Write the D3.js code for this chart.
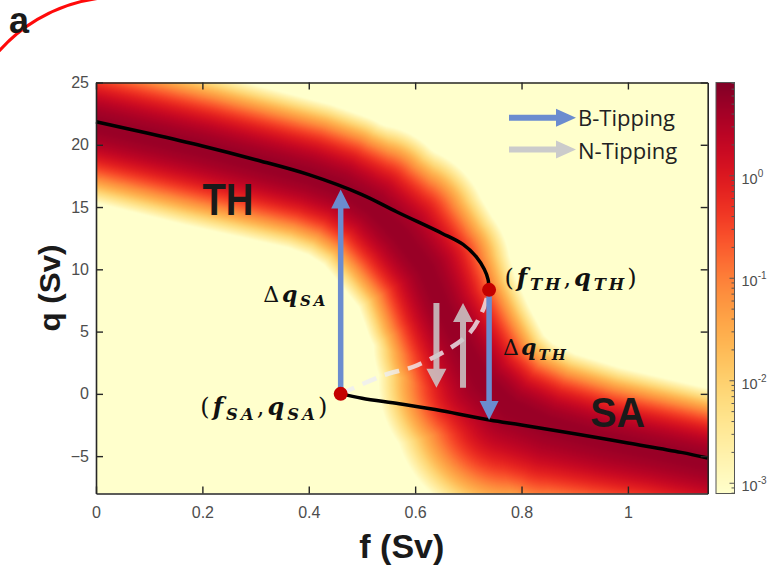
<!DOCTYPE html>
<html lang="en">
  <head>
    <meta charset="utf-8" />
    <title>AMOC tipping - density map</title>
    <script src="https://cdnjs.cloudflare.com/ajax/libs/d3/7.8.5/d3.min.js"></script>
    <style type="text/css">
      body {
        margin: 0;
        background: #fff;
      }
      .tick text {
        font-family: "Liberation Sans", Arial, sans-serif;
        fill: #4d4d4d;
      }
      .axisLabel {
        font-family: "Liberation Sans", Arial, sans-serif;
        font-weight: bold;
        fill: #1a1a1a;
      }
      .math {
        font-family: "DejaVu Serif", serif;
        fill: #111;
      }
    </style>
  </head>

  <body>
    <div id="chart"></div>

    <script>
      // ticks
      const fTicks = [0, 0.2, 0.4, 0.6, 0.8, 1];
      const qTicks = [-5, 0, 5, 10, 15, 20, 25];
      const cbTicks = [-3, -2, -1, 0]; // log10

      // TH branch (stable, upper)
      const thF = [0, 0.1, 0.2, 0.3, 0.4, 0.5, 0.566, 0.65, 0.69, 0.715, 0.73, 0.737, 0.739];
      const thQ = [21.85, 20.9, 19.9, 18.8, 17.6, 16.0, 14.6, 12.9, 12.0, 11.0, 10.0, 9.2, 8.35];

      // SA branch (stable, lower)
      const saF = [0.46, 0.5, 0.57, 0.65, 0.74, 0.8, 0.9, 1.0, 1.1, 1.15];
      const saQ = [0, -0.35, -0.8, -1.35, -2.1, -2.5, -3.2, -3.95, -4.7, -5.15];

      // unstable branch (dashed)
      const unF = [0.46, 0.541, 0.604, 0.698, 0.726, 0.739];
      const unQ = [0, 1.5, 2.3, 4.7, 6.6, 8.35];

      // saddle-node points (f_SA,q_SA) and (f_TH,q_TH)
      const foldF = [0.46, 0.739];
      const foldQ = [0, 8.35];

      // B-tipping arrows
      const bTipF = [0.46, 0.739];
      const bTipFrom = [0, 8.35];
      const bTipTo = [16.4, -2.1];

      // N-tipping arrows
      const nTipF = [0.64, 0.69];
      const nTipFrom = [7.3, 0.5];
      const nTipTo = [0.5, 7.3];

      // ridge of the density band, with spread above / below (Sv)
      const ridgeF = [0, 0.2, 0.4, 0.46, 0.52, 0.57, 0.62, 0.65, 0.69, 0.73, 0.78, 0.85, 0.95, 1.05, 1.15];
      const ridgeQ = [21.6, 19.7, 17.5, 16.6, 15.0, 12.8, 10.0, 7.0, 4.0, 1.0, -1.0, -2.4, -3.6, -4.5, -5.4];
      const ridgeUp = [6.2, 6.0, 6.0, 6.0, 6.6, 7.2, 6.8, 6.4, 6.1, 6.0, 6.0, 6.0, 5.9, 5.8, 5.7];
      const ridgeLow = [6.1, 6.3, 6.0, 6.0, 6.0, 6.2, 6.1, 6.3, 7.2, 8.5, 9.5, 8.5, 7.5, 7.0, 7.0];

      const width = 773;
      const height = 570;

      const x = d3.scaleLinear().domain([0, 1.15]).range([96, 707.7]);
      const y = d3.scaleLinear().domain([-8, 25]).range([493.5, 82.5]);

      const logMin = -3.1, logMax = 0.91;
      const color = d3.scaleSequentialLog(d3.interpolateYlOrRd)
        .domain([Math.pow(10, logMin), Math.pow(10, logMax)]);

      const svg = d3.select("#chart")
        .append("svg")
        .attr("width", width)
        .attr("height", height)
        .attr("viewBox", [0, 0, width, height]);

      // ---- density field -> canvas -> image
      const px0 = x.range()[0], px1 = x.range()[1];
      const py0 = y.range()[1], py1 = y.range()[0];
      const cw = Math.round(px1 - px0), ch = Math.round(py1 - py0);
      const pxPerSv = Math.abs(y(1) - y(0));

      const pts = ridgeF.map((f, i) => ({
        x: x(f), y: y(ridgeQ[i]),
        up: ridgeUp[i] * pxPerSv, low: ridgeLow[i] * pxPerSv
      }));

      function bandDist(px, py) {
        let best = Infinity;
        const n = pts.length;
        for (let k = 0; k < n - 1; k++) {
          const a = pts[k], b = pts[k + 1];
          const dx = b.x - a.x, dy = b.y - a.y;
          const len2 = dx * dx + dy * dy;
          let t = ((px - a.x) * dx + (py - a.y) * dy) / len2;
          if (k > 0) t = Math.max(t, 0);
          if (k < n - 2) t = Math.min(t, 1);
          const d = Math.hypot(px - (a.x + t * dx), py - (a.y + t * dy));
          const side = dx * (py - a.y) - dy * (px - a.x);
          const tt = Math.min(Math.max(t, 0), 1);
          const w = side < 0 ? a.up + (b.up - a.up) * tt : a.low + (b.low - a.low) * tt;
          const dn = d / w;
          if (dn < best) best = dn;
        }
        return best;
      }

      // colour lookup via the colour scale
      const lut = d3.range(256).map(i => {
        const v = Math.pow(10, logMin + (logMax - logMin) * i / 255);
        return d3.rgb(color(v));
      });

      const canvas = document.createElement("canvas");
      canvas.width = cw;
      canvas.height = ch;
      const ctx = canvas.getContext("2d");
      const img = ctx.createImageData(cw, ch);
      for (let j = 0; j < ch; j++) {
        for (let i = 0; i < cw; i++) {
          const dn = bandDist(px0 + i + 0.5, py0 + j + 0.5);
          const t = 0.95 * Math.max(0, 1 - Math.pow(dn, 2));
          const c = lut[Math.round(t * 255)];
          const o = (j * cw + i) * 4;
          img.data[o] = c.r;
          img.data[o + 1] = c.g;
          img.data[o + 2] = c.b;
          img.data[o + 3] = 255;
        }
      }
      ctx.putImageData(img, 0, 0);

      svg.append("image")
        .attr("x", px0)
        .attr("y", py0)
        .attr("width", cw)
        .attr("height", ch)
        .attr("preserveAspectRatio", "none")
        .attr("href", canvas.toDataURL());

      // ---- branches
      const line = d3.line()
        .x(d => x(d[0]))
        .y(d => y(d[1]))
        .curve(d3.curveCatmullRom.alpha(0.5));

      svg.append("path")
        .attr("fill", "none")
        .attr("stroke", "#eeeef2")
        .attr("stroke-opacity", 0.8)
        .attr("stroke-width", 4.5)
        .attr("stroke-dasharray", "15 9")
        .attr("d", line(unF.map((f, i) => [f, unQ[i]])));

      svg.append("path")
        .attr("fill", "none")
        .attr("stroke", "#000")
        .attr("stroke-width", 3.5)
        .attr("d", line(thF.map((f, i) => [f, thQ[i]])));

      svg.append("path")
        .attr("fill", "none")
        .attr("stroke", "#000")
        .attr("stroke-width", 3.5)
        .attr("d", line(saF.map((f, i) => [f, saQ[i]])));

      // ---- arrows
      function blockArrow(x1, y1, x2, y2, shaft, headW, headL) {
        const len = Math.hypot(x2 - x1, y2 - y1);
        const ux = (x2 - x1) / len, uy = (y2 - y1) / len;
        const nx = -uy, ny = ux;
        const bx = x2 - ux * headL, by = y2 - uy * headL;
        const s = shaft / 2, h = headW / 2;
        const p = d3.path();
        p.moveTo(x1 + nx * s, y1 + ny * s);
        p.lineTo(bx + nx * s, by + ny * s);
        p.lineTo(bx + nx * h, by + ny * h);
        p.lineTo(x2, y2);
        p.lineTo(bx - nx * h, by - ny * h);
        p.lineTo(bx - nx * s, by - ny * s);
        p.lineTo(x1 - nx * s, y1 - ny * s);
        p.closePath();
        return p.toString();
      }

      const blue = "#6b8ccf";
      const grey = "#cbcbcb";

      svg.append("g")
        .selectAll("path")
        .data(nTipF)
        .join("path")
        .attr("fill", grey)
        .attr("fill-opacity", 0.85)
        .attr("d", (f, i) => blockArrow(x(f), y(nTipFrom[i]), x(f), y(nTipTo[i]), 6, 20, 19));

      svg.append("g")
        .selectAll("path")
        .data(bTipF)
        .join("path")
        .attr("fill", blue)
        .attr("d", (f, i) => blockArrow(x(f), y(bTipFrom[i]), x(f), y(bTipTo[i]), 5.5, 19, 19));

      svg.append("g")
        .selectAll("circle")
        .data(foldF)
        .join("circle")
        .attr("cx", d => x(d))
        .attr("cy", (d, i) => y(foldQ[i]))
        .attr("r", 7)
        .attr("fill", "#c40000");

      // ---- text labels in the plot
      svg.append("text")
        .attr("class", "axisLabel")
        .attr("x", x(0.2))
        .attr("y", y(14.4))
        .attr("font-size", 44)
        .attr("textLength", 51)
        .attr("lengthAdjust", "spacingAndGlyphs")
        .attr("fill", "#111")
        .text("TH");

      svg.append("text")
        .attr("class", "axisLabel")
        .attr("x", x(0.929))
        .attr("y", y(-2.65))
        .attr("font-size", 42)
        .attr("textLength", 55)
        .attr("lengthAdjust", "spacingAndGlyphs")
        .attr("fill", "#111")
        .text("SA");

      function mathText(px, py, parts, size, len) {
        const t = svg.append("text")
          .attr("class", "math")
          .attr("x", px)
          .attr("y", py)
          .attr("font-size", size);
        if (len) t.attr("textLength", len).attr("lengthAdjust", "spacing");
        let shifted = false;
        parts.forEach(([s, kind]) => {
          const sp = t.append("tspan").text(s);
          if (kind === "sub") {
            sp.attr("font-weight", "bold").attr("font-style", "italic")
              .attr("font-size", size * 0.68);
            if (!shifted) { sp.attr("dy", size * 0.2); shifted = true; }
          } else {
            if (shifted) { sp.attr("dy", -size * 0.2); shifted = false; }
            if (kind === "bi") sp.attr("font-weight", "bold").attr("font-style", "italic");
          }
        });
        return t;
      }

      mathText(x(0.3145), y(7.4), [["Δ", "n"], ["q", "bi"], ["SA", "sub"]], 22, 62);
      mathText(x(0.765), y(3.1), [["Δ", "n"], ["q", "bi"], ["TH", "sub"]], 22, 63);
      mathText(x(0.196), y(-1.7),
        [["(", "n"], ["f", "bi"], ["SA", "sub"], [",", "n"], ["q", "bi"], ["SA", "sub"], [")", "n"]], 24, 127);
      mathText(x(0.768), y(8.7),
        [["(", "n"], ["f", "bi"], ["TH", "sub"], [",", "n"], ["q", "bi"], ["TH", "sub"], [")", "n"]], 24, 132);

      // ---- legend
      const legend = svg.append("g");
      [["B-Tipping", blue, 117.7, 125.5], ["N-Tipping", grey, 149.5, 158.5]].forEach(([label, c, ay, ty]) => {
        legend.append("path")
          .attr("fill", c)
          .attr("d", blockArrow(509, ay, 576, ay, 6, 18, 20));
        legend.append("text")
          .attr("x", 578)
          .attr("y", ty)
          .attr("font-family", "'Open Sans', sans-serif")
          .attr("font-size", 22)
          .attr("fill", "#222")
          .text(label);
      });

      // ---- axes (box with inward ticks)
      function styleAxis(g) {
        g.attr("color", "#262626");
        g.select(".domain").attr("stroke-width", 1.6);
        g.selectAll(".tick line").attr("stroke-width", 1.4);
        g.selectAll(".tick text").attr("font-size", 16).attr("font-family", null);
        g.attr("font-family", null);
      }

      svg.append("g")
        .attr("transform", `translate(0, ${y.range()[0]})`)
        .call(d3.axisBottom(x).tickValues(fTicks).tickSize(-7).tickSizeOuter(0).tickPadding(13).tickFormat(d3.format("")))
        .call(styleAxis);

      svg.append("g")
        .attr("transform", `translate(0, ${y.range()[1]})`)
        .call(d3.axisTop(x).tickValues(fTicks).tickSize(-7).tickSizeOuter(0).tickFormat(""))
        .call(styleAxis);

      svg.append("g")
        .attr("transform", `translate(${x.range()[0]}, 0)`)
        .call(d3.axisLeft(y).tickValues(qTicks).tickSize(-7).tickSizeOuter(0).tickPadding(7))
        .call(styleAxis);

      svg.append("g")
        .attr("transform", `translate(${x.range()[1]}, 0)`)
        .call(d3.axisRight(y).tickValues(qTicks).tickSize(-7).tickSizeOuter(0).tickFormat(""))
        .call(styleAxis);

      svg.append("text")
        .attr("class", "axisLabel")
        .attr("x", (x.range()[0] + x.range()[1]) / 2)
        .attr("y", 558)
        .attr("text-anchor", "middle")
        .attr("font-size", 34)
        .text("f (Sv)");

      svg.append("text")
        .attr("class", "axisLabel")
        .attr("transform", `translate(60, ${(y.range()[0] + y.range()[1]) / 2}) rotate(-90)`)
        .attr("text-anchor", "middle")
        .attr("font-size", 29)
        .attr("textLength", 87)
        .attr("lengthAdjust", "spacingAndGlyphs")
        .text("q (Sv)");

      // ---- colorbar
      const cb = d3.scaleLog()
        .domain([Math.pow(10, logMin), Math.pow(10, logMax)])
        .range([y.range()[0], y.range()[1]]);
      const cbX = 716, cbW = 18.5;
      const cbG = svg.append("g");
      cbG.selectAll("rect")
        .data(d3.range(Math.floor(cb.range()[1]), Math.ceil(cb.range()[0])))
        .join("rect")
        .attr("x", cbX)
        .attr("y", d => d)
        .attr("width", cbW)
        .attr("height", 1.2)
        .attr("fill", d => color(cb.invert(d + 0.5)));
      cbG.append("rect")
        .attr("x", cbX)
        .attr("y", cb.range()[1])
        .attr("width", cbW)
        .attr("height", cb.range()[0] - cb.range()[1])
        .attr("fill", "none")
        .attr("stroke", "#555")
        .attr("stroke-width", 1);

      const minor = cb.ticks().filter(v => v > cb.domain()[0] && v < cb.domain()[1]);
      cbG.selectAll("line.minor")
        .data(minor)
        .join("line")
        .attr("class", "minor")
        .attr("x1", cbX + cbW)
        .attr("x2", d => cbX + cbW - (cbTicks.includes(Math.round(Math.log10(d) * 1000) / 1000) ? 5 : 3))
        .attr("y1", d => cb(d))
        .attr("y2", d => cb(d))
        .attr("stroke", "#555")
        .attr("stroke-width", 1);

      const cbLab = cbG.selectAll("text")
        .data(cbTicks)
        .join("text")
        .attr("x", cbX + cbW + 7)
        .attr("y", d => cb(Math.pow(10, d)) + 8)
        .attr("font-family", "'Liberation Sans', Arial, sans-serif")
        .attr("font-size", 14.5)
        .attr("fill", "#4d4d4d");
      cbLab.append("tspan").text("10");
      cbLab.append("tspan")
        .attr("dy", -7)
        .attr("font-size", 10)
        .text(d => d);

      // ---- panel letter and red arc
      svg.append("path")
        .attr("transform", "translate(119, 157)")
        .attr("fill", "none")
        .attr("stroke", "#ff0a0a")
        .attr("stroke-width", 3)
        .attr("d", d3.arc()({ innerRadius: 160, outerRadius: 160, startAngle: -0.95, endAngle: -0.12 }));

      svg.append("text")
        .attr("class", "axisLabel")
        .attr("x", 9)
        .attr("y", 33)
        .attr("font-size", 36)
        .attr("fill", "#111")
        .text("a");
    </script>
  </body>
</html>
